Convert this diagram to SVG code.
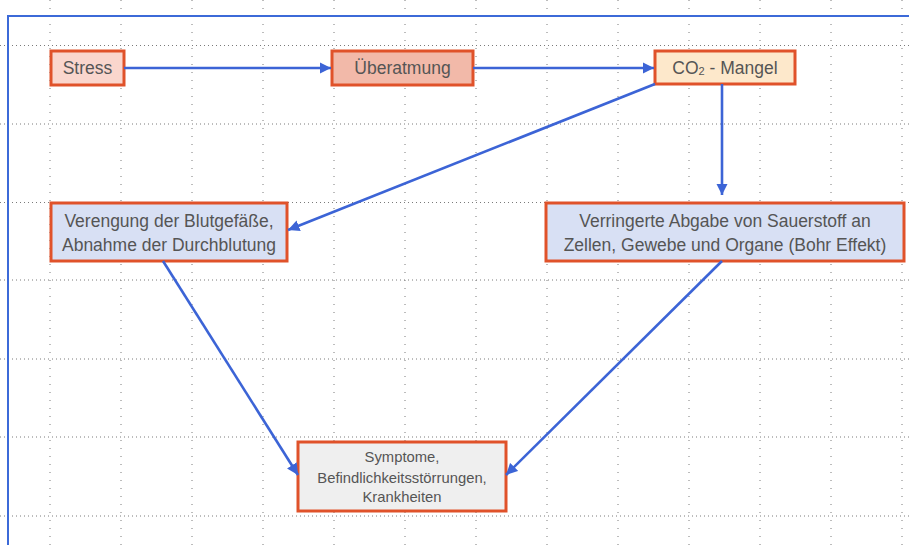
<svg xmlns="http://www.w3.org/2000/svg" width="909" height="545" viewBox="0 0 909 545">
<style>
.gv{stroke:#7a7a7a;stroke-width:1;stroke-dasharray:1 7;fill:none}
.gh{stroke:#7a7a7a;stroke-width:1;stroke-dasharray:1 3;fill:none}
.box{stroke:#e0522a;stroke-width:3}
.t{font-family:"Liberation Sans",Arial,sans-serif;fill:#555;text-anchor:middle}
.big{font-size:17.5px}
.small{font-size:14.8px}
.c{stroke:#3c64d6;stroke-width:2.6;fill:none}
</style>
<defs>
<marker id="ah" viewBox="0 0 10 10" refX="10" refY="5" markerWidth="4.4" markerHeight="4.4" orient="auto" markerUnits="strokeWidth">
<path d="M0,0 L10,5 L0,10 z" fill="#3c64d6"/>
</marker>
</defs>
<rect width="909" height="545" fill="#ffffff"/>
<g id="grid">
<path class="gv" d="M50,0V545M121,0V545M192,0V545M263,0V545M334,0V545M405,0V545M476,0V545M547,0V545M618,0V545M689,0V545M760,0V545M831,0V545M902,0V545"/>
<path class="gh" d="M0,45.5H909M0,124H909M0,202.5H909M0,280H909M0,359H909M0,437H909M0,516H909"/>
</g>
<path d="M8,545V16H909" stroke="#3c6ad8" stroke-width="2" fill="none"/>
<g id="n-stress">
<rect class="box" x="51" y="51" width="73" height="34" fill="#fad6cd"/>
<text class="t big" x="87.5" y="74">Stress</text>
</g>
<g id="n-ueberatmung">
<rect class="box" x="332" y="51" width="141" height="34" fill="#f2b9a9"/>
<text class="t big" x="402.5" y="74">Überatmung</text>
</g>
<g id="n-co2">
<rect class="box" x="655" y="51" width="140" height="33" fill="#fde8cb"/>
<text class="t big" x="725" y="74">CO<tspan font-size="11" dy="1">2</tspan><tspan dy="-1"> - Mangel</tspan></text>
</g>
<g id="n-verengung">
<rect class="box" x="51" y="203" width="236" height="58" fill="#d8e0f4"/>
<text class="t big" x="169" y="227">Verengung der Blutgefäße,</text>
<text class="t big" x="169" y="251">Abnahme der Durchblutung</text>
</g>
<g id="n-verringerte">
<rect class="box" x="546" y="203" width="358" height="58" fill="#d8e0f4"/>
<text class="t big" x="725" y="227">Verringerte Abgabe von Sauerstoff an</text>
<text class="t big" x="725" y="251">Zellen, Gewebe und Organe (Bohr Effekt)</text>
</g>
<g id="n-symptome">
<rect class="box" x="298" y="442" width="208" height="69" fill="#efefef"/>
<text class="t small" x="402" y="462">Symptome,</text>
<text class="t small" x="402" y="483">Befindlichkeitsstörrungen,</text>
<text class="t small" x="402" y="502">Krankheiten</text>
</g>
<g id="connectors">
<path class="c" d="M124,68H331" marker-end="url(#ah)"/>
<path class="c" d="M473,68H654" marker-end="url(#ah)"/>
<path class="c" d="M655,84L288,230" marker-end="url(#ah)"/>
<path class="c" d="M722,84V195" marker-end="url(#ah)"/>
<path class="c" d="M163,261L298,475" marker-end="url(#ah)"/>
<path class="c" d="M722,261L506,475" marker-end="url(#ah)"/>
</g>
</svg>
